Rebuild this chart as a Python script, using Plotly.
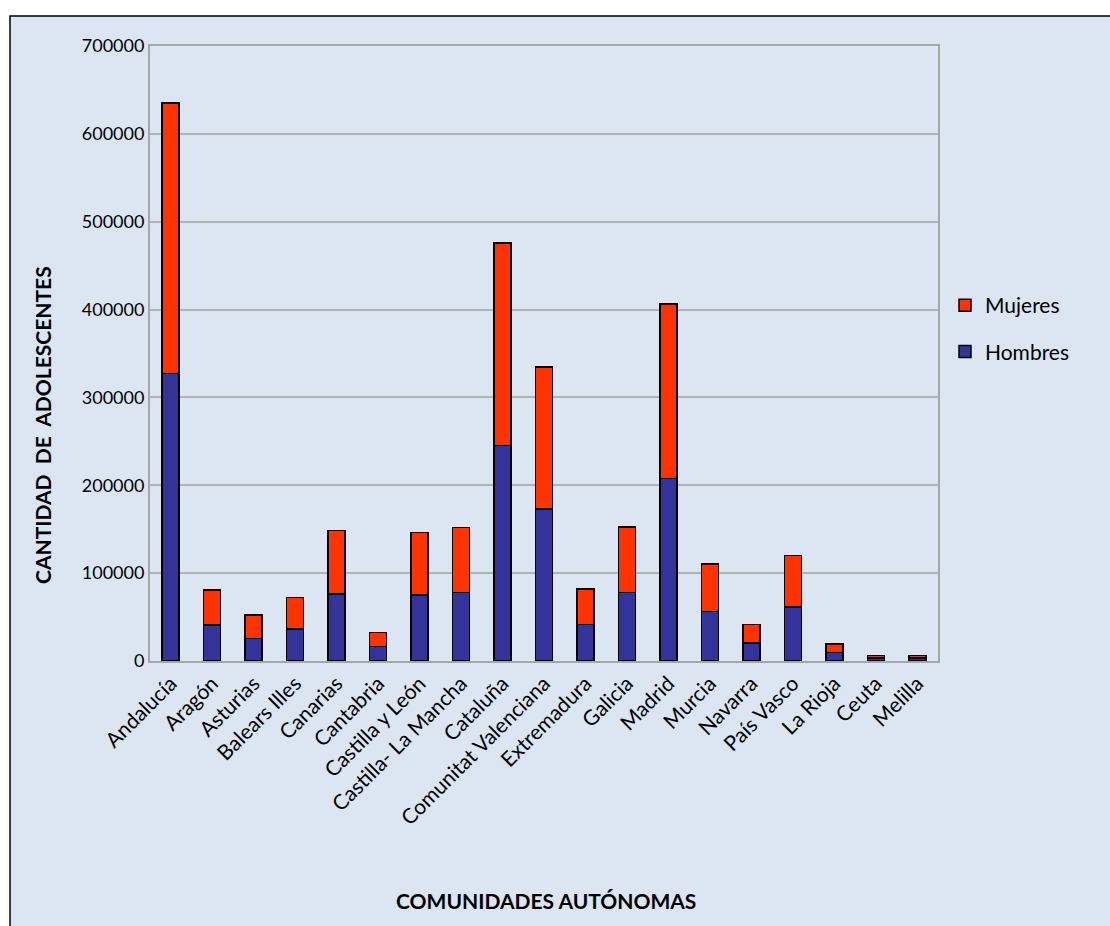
import plotly.graph_objects as go

categories = ["Andalucía", "Aragón", "Asturias", "Balears Illes", "Canarias", "Cantabria",
              "Castilla y León", "Castilla- La Mancha", "Cataluña", "Comunitat Valenciana",
              "Extremadura", "Galicia", "Madrid", "Murcia", "Navarra", "País Vasco",
              "La Rioja", "Ceuta", "Melilla"]
hombres = [327000, 41000, 25800, 36400, 76300, 16300, 75100, 77800, 245100, 173000,
           41300, 77700, 207500, 56100, 20500, 61500, 9500, 3300, 3300]
totales = [635000, 80800, 52400, 72000, 148800, 32600, 146000, 151700, 475800, 334600,
           82000, 152500, 406300, 110400, 41300, 119900, 19400, 6500, 6500]
mujeres = [t - h for t, h in zip(totales, hombres)]
y_ticks = [0, 100000, 200000, 300000, 400000, 500000, 600000, 700000]

FONT = "Lato"
BG = "#DCE6F2"

fig = go.Figure()
fig.add_trace(go.Bar(x=categories, y=hombres, name="Hombres", legendgroup="h", legendrank=2,
                     marker=dict(color="#333399", line=dict(color="black", width=1.5))))
fig.add_trace(go.Bar(x=categories, y=mujeres, name="Mujeres", legendgroup="m", legendrank=1,
                     marker=dict(color="#FF3300", line=dict(color="black", width=1.5))))

L, R, T, B = 150, 1110 - 938, 46, 926 - 661
W, H = 1110 - L - R, 926 - T - B

def px_x(p):
    return (p - L) / W

def px_y(p):
    return (926 - B - p) / H

fig.add_shape(type="rect", xref="paper", yref="paper",
              x0=px_x(10), x1=px_x(1115), y0=px_y(930), y1=px_y(16),
              fillcolor=BG, line=dict(color="black", width=1.5), layer="below")

fig.update_layout(
    width=1110, height=926,
    margin=dict(l=L, r=R, t=T, b=B),
    paper_bgcolor="white",
    plot_bgcolor=BG,
    barmode="stack",
    bargap=0.59,
    font=dict(family=FONT, color="black", size=18),
    legend=dict(x=px_x(945), y=px_y(285), xanchor="left", yanchor="top",
                traceorder="grouped", tracegroupgap=16,
                font=dict(size=21), bgcolor="rgba(0,0,0,0)", itemwidth=30),
    showlegend=True,
    annotations=[
        dict(text="<b>COMUNIDADES AUTÓNOMAS</b>", xref="paper", yref="paper",
             x=px_x(546), y=px_y(900), xanchor="center", yanchor="middle",
             showarrow=False, font=dict(size=21)),
        dict(text="<b>CANTIDAD  DE  ADOLESCENTES</b>", xref="paper", yref="paper",
             x=px_x(42), y=px_y(425), xanchor="center", yanchor="middle",
             showarrow=False, textangle=-90, font=dict(size=21)),
    ],
)
fig.update_xaxes(tickangle=-45, tickfont=dict(size=21), showline=True, linecolor="#A6A6A6",
                 linewidth=2, mirror=True, ticks="", showgrid=False)
fig.update_yaxes(range=[0, 700000], tickvals=y_ticks, ticktext=[str(v) for v in y_ticks],
                 tickfont=dict(size=18), showgrid=True, gridcolor="#B3B3B3", gridwidth=1.5,
                 showline=True, linecolor="#A6A6A6", linewidth=2, mirror=True,
                 ticks="", zeroline=False)

fig.write_html("out.html")
